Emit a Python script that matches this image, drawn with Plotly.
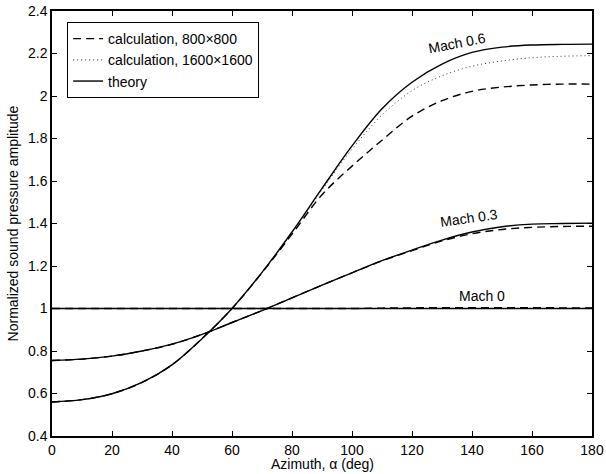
import plotly.graph_objects as go

# ---- data ----
alpha = [0, 10, 20, 30, 40, 50, 60, 70, 80, 90, 100, 110, 120, 130, 140, 150, 160, 170, 180]

m06_theory = [0.560, 0.571, 0.599, 0.652, 0.735, 0.858, 1.000, 1.170, 1.360, 1.565, 1.765, 1.940,
              2.065, 2.150, 2.205, 2.230, 2.240, 2.243, 2.244]
m06_800 = [0.560, 0.571, 0.599, 0.652, 0.735, 0.858, 1.000, 1.168, 1.350, 1.535, 1.670, 1.792,
           1.905, 1.978, 2.022, 2.042, 2.052, 2.056, 2.056]
m06_1600 = [0.560, 0.571, 0.599, 0.652, 0.735, 0.858, 1.000, 1.170, 1.358, 1.558, 1.750, 1.910,
            2.025, 2.095, 2.140, 2.165, 2.180, 2.187, 2.190]

m03_theory = [0.755, 0.762, 0.776, 0.800, 0.832, 0.878, 0.934, 0.990, 1.050, 1.110, 1.168, 1.225,
              1.275, 1.322, 1.360, 1.385, 1.397, 1.400, 1.402]
m03_800 = [0.755, 0.762, 0.776, 0.800, 0.832, 0.878, 0.934, 0.990, 1.050, 1.110, 1.168, 1.224,
           1.272, 1.318, 1.352, 1.372, 1.382, 1.386, 1.387]

m0_theory = [1.0] * 19
m0_800 = [1.0, 1.0, 1.0, 1.0, 1.0, 1.0, 1.0, 1.0, 1.0, 1.0, 1.0, 1.002, 1.003, 1.004, 1.004,
          1.004, 1.004, 1.003, 1.003]

legend_names = ["calculation, 800\u00d7800", "calculation, 1600\u00d71600", "theory"]
mach_labels = ["Mach 0.6", "Mach 0.3", "Mach 0"]
x_title = "Azimuth, \u03b1 (deg)"
y_title = "Normalized sound pressure amplitude"

FONT = "Liberation Sans, Arial, sans-serif"
DASH = "8px,5px"
DOT = "1px,3px"

fig = go.Figure()

def add(y, dash, name, show, width=1.4, color="black"):
    fig.add_trace(go.Scatter(
        x=alpha, y=y, mode="lines", name=name, showlegend=show,
        line=dict(color=color, width=width, dash=dash, shape="spline", smoothing=1.0),
    ))

# dashed (800x800)
add(m06_800, DASH, legend_names[0], True)
add(m03_800, DASH, legend_names[0], False)
add(m0_800, DASH, legend_names[0], False)
# dotted (1600x1600)
add(m06_1600, DOT, legend_names[1], True, width=1.0, color="#333333")
# theory
add(m06_theory, "solid", legend_names[2], True)
add(m03_theory, "solid", legend_names[2], False)
add(m0_theory, "solid", legend_names[2], False)

ann = [
    dict(x=135.0, y=2.25, text=mach_labels[0], textangle=-11),
    dict(x=139.0, y=1.426, text=mach_labels[1], textangle=-8),
    dict(x=143.3, y=1.059, text=mach_labels[2], textangle=0),
]
for a in ann:
    fig.add_annotation(x=a["x"], y=a["y"], text=a["text"], textangle=a["textangle"],
                       showarrow=False, xref="x", yref="y",
                       font=dict(family=FONT, size=14, color="black"))

# x-axis title as a paper annotation, bottom-aligned to the page edge
fig.add_annotation(x=0.5, y=-38.0 / 425.0, xref="paper", yref="paper", text=x_title,
                   showarrow=False, xanchor="center", yanchor="bottom",
                   font=dict(family=FONT, size=14, color="black"))

axis_common = dict(
    showline=True, linecolor="black", linewidth=1.5, mirror="ticks",
    ticks="inside", ticklen=5, tickwidth=1, tickcolor="black",
    showgrid=False, zeroline=False, automargin=False,
    tickfont=dict(family=FONT, size=14, color="black"),
)

fig.update_xaxes(range=[0, 180], tick0=0, dtick=20, **axis_common)
fig.update_yaxes(range=[0.4, 2.4], tick0=0.4, dtick=0.2, **axis_common,
                 title=dict(text=y_title, font=dict(family=FONT, size=14, color="black"), standoff=6))

fig.update_layout(
    width=606, height=474,
    margin=dict(l=52, r=14, t=11, b=38),
    paper_bgcolor="white", plot_bgcolor="white",
    font=dict(family=FONT, size=14, color="black"),
    legend=dict(x=0.028, y=0.974, xanchor="left", yanchor="top",
                bordercolor="black", borderwidth=1, bgcolor="white",
                font=dict(family=FONT, size=14, color="black"),
                tracegroupgap=0, itemwidth=30),
)

fig.write_html("out.html")
